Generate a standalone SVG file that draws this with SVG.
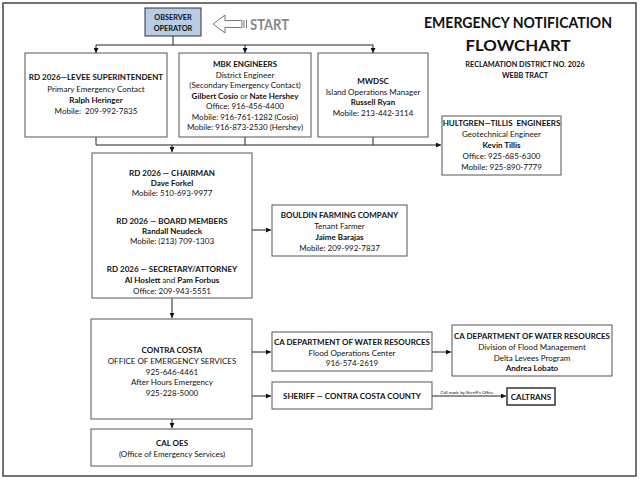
<svg xmlns="http://www.w3.org/2000/svg" width="640" height="480" viewBox="0 0 640 480">
<defs>
<style>
.t{font-family:Lato,"Liberation Sans",sans-serif;font-size:8px;text-anchor:middle;fill:#111;white-space:pre}
.b{font-weight:bold}
.big{font-size:16px}
.sm{font-size:7.3px}
.tiny{font-size:4.3px}
.box{fill:#fff;stroke:#555;stroke-width:1}
.ln{stroke:#222;stroke-width:1;fill:none}
.ar{marker-end:url(#ah)}
</style>
<marker id="ah" viewBox="0 0 6 6" refX="6" refY="3" markerUnits="userSpaceOnUse" markerWidth="5" markerHeight="5" orient="auto">
<path d="M0,0 L6,3 L0,6 z" fill="#111"/>
</marker>
</defs>
<rect x="0" y="0" width="640" height="480" fill="#fff"/>
<rect x="3" y="3" width="633" height="473" fill="none" stroke="#444" stroke-width="1.5"/>

<g id="title">
<text class="t b big" x="518" y="28" textLength="188" lengthAdjust="spacingAndGlyphs">EMERGENCY NOTIFICATION</text>
<text class="t b big" x="518" y="51" textLength="105" lengthAdjust="spacingAndGlyphs">FLOWCHART</text>
<text class="t b sm" x="525" y="67">RECLAMATION DISTRICT NO. 2026</text>
<text class="t b sm" x="525" y="77.5">WEBB TRACT</text>
</g>

<g id="start">
<polygon points="213,24 225,15 225,20.5 242,20.5 242,27.5 225,27.5 225,33" fill="#fff" stroke="#777" stroke-width="1"/>
<line x1="244" y1="20" x2="244" y2="28" stroke="#777" stroke-width="1"/>
<line x1="246.5" y1="20" x2="246.5" y2="28" stroke="#777" stroke-width="1"/>
<text class="t b" x="250" y="29.5" style="font-size:15px;text-anchor:start;fill:#888" textLength="39" lengthAdjust="spacingAndGlyphs">START</text>
</g>

<g id="observer">
<rect x="145" y="8" width="56" height="28" fill="#b8cce4" stroke="#333" stroke-width="1"/>
<text class="t b sm" x="173" y="20">OBSERVER</text>
<text class="t b sm" x="173" y="31">OPERATOR</text>
</g>

<g id="connectors">
<path class="ln" d="M173,36 V45 M96,45 H373"/>
<path class="ln ar" d="M96,45 V53"/>
<path class="ln ar" d="M245,45 V53"/>
<path class="ln ar" d="M373,45 V53"/>
<path class="ln" d="M96,137 V145 M245,137 V145 M373,137 V145"/>
<path class="ln ar" d="M96,145 H441"/>
<path class="ln ar" d="M172,145 V152"/>
<path class="ln ar" d="M252,230 H271"/>
<path class="ln ar" d="M172,298 V318"/>
<path class="ln ar" d="M252,352 H271"/>
<path class="ln ar" d="M252,396 H271"/>
<path class="ln ar" d="M172,419 V428"/>
<path class="ln ar" d="M432,352 H451"/>
<path class="ln ar" d="M432,396 H506"/>
<text class="t tiny" x="467" y="393.5">Call made by Sheriff's Office</text>
</g>

<g id="levee">
<rect class="box" x="25" y="53" width="142" height="84"/>
<text class="t b" x="96" y="80">RD 2026—LEVEE SUPERINTENDENT</text>
<text class="t" x="96" y="91.5">Primary Emergency Contact</text>
<text class="t b" x="96" y="102.5">Ralph Heringer</text>
<text class="t" x="96" y="113.5">Mobile:  209-992-7835</text>
</g>

<g id="mbk">
<rect class="box" x="179" y="53" width="132" height="84"/>
<text class="t b" x="245" y="67">MBK ENGINEERS</text>
<text class="t" x="245" y="77.5">District Engineer</text>
<text class="t" x="245" y="88">(Secondary Emergency Contact)</text>
<text class="t" x="245" y="98.5"><tspan class="b">Gilbert Cosio</tspan> or <tspan class="b">Nate Hershey</tspan></text>
<text class="t" x="245" y="109">Office: 916-456-4400</text>
<text class="t" x="245" y="119.5">Mobile: 916-761-1282 (Cosio)</text>
<text class="t" x="245" y="130">Mobile: 916-873-2530 (Hershey)</text>
</g>

<g id="mwdsc">
<rect class="box" x="318" y="53" width="110" height="84"/>
<text class="t b" x="373" y="84">MWDSC</text>
<text class="t" x="373" y="94.5">Island Operations Manager</text>
<text class="t b" x="373" y="105">Russell Ryan</text>
<text class="t" x="373" y="115.5">Mobile: 213-442-3114</text>
</g>

<g id="hultgren">
<rect class="box" x="442" y="116" width="119" height="59"/>
<text class="t b" x="501.5" y="126">HULTGREN—TILLIS  ENGINEERS</text>
<text class="t" x="501.5" y="137">Geotechnical Engineer</text>
<text class="t b" x="501.5" y="148">Kevin Tillis</text>
<text class="t" x="501.5" y="159">Office: 925-685-6300</text>
<text class="t" x="501.5" y="170">Mobile: 925-890-7779</text>
</g>

<g id="board">
<rect class="box" x="92" y="153" width="160" height="145"/>
<text class="t b" x="172" y="176">RD 2026 — CHAIRMAN</text>
<text class="t b" x="172" y="186">Dave Forkel</text>
<text class="t" x="172" y="196">Mobile: 510-693-9977</text>
<text class="t b" x="172" y="224">RD 2026 — BOARD MEMBERS</text>
<text class="t b" x="172" y="234">Randall Neudeck</text>
<text class="t" x="172" y="244">Mobile: (213) 709-1303</text>
<text class="t b" x="172" y="272">RD 2026 — SECRETARY/ATTORNEY</text>
<text class="t" x="172" y="283"><tspan class="b">Al Hoslett</tspan> and <tspan class="b">Pam Forbus</tspan></text>
<text class="t" x="172" y="294">Office: 209-943-5551</text>
</g>

<g id="bouldin">
<rect class="box" x="272" y="205" width="135" height="51"/>
<text class="t b" x="339.5" y="218">BOULDIN FARMING COMPANY</text>
<text class="t" x="339.5" y="229">Tenant Farmer</text>
<text class="t b" x="339.5" y="240">Jaime Barajas</text>
<text class="t" x="339.5" y="251">Mobile: 209-992-7837</text>
</g>

<g id="contracosta">
<rect class="box" x="91" y="319" width="161" height="100"/>
<text class="t b" x="172" y="353">CONTRA COSTA</text>
<text class="t" x="172" y="364">OFFICE OF EMERGENCY SERVICES</text>
<text class="t" x="172" y="374.5">925-646-4461</text>
<text class="t" x="172" y="385">After Hours Emergency</text>
<text class="t" x="172" y="396">925-228-5000</text>
</g>

<g id="caloes">
<rect class="box" x="91" y="429" width="161" height="37"/>
<text class="t b" x="172" y="446">CAL OES</text>
<text class="t" x="172" y="457">(Office of Emergency Services)</text>
</g>

<g id="dwr">
<rect class="box" x="272" y="332" width="160" height="39"/>
<text class="t b" x="352" y="345">CA DEPARTMENT OF WATER RESOURCES</text>
<text class="t" x="352" y="355.5">Flood Operations Center</text>
<text class="t" x="352" y="366">916-574-2619</text>
</g>

<g id="dwr2">
<rect class="box" x="452" y="325" width="160" height="51"/>
<text class="t b" x="532" y="339">CA DEPARTMENT OF WATER RESOURCES</text>
<text class="t" x="532" y="350">Division of Flood Management</text>
<text class="t" x="532" y="360.5">Delta Levees Program</text>
<text class="t b" x="532" y="371">Andrea Lobato</text>
</g>

<g id="sheriff">
<rect class="box" x="272" y="382" width="160" height="27"/>
<text class="t b" x="352" y="399">SHERIFF — CONTRA COSTA COUNTY</text>
</g>

<g id="caltrans">
<rect x="507" y="388" width="48" height="17" fill="#fff" stroke="#333" stroke-width="1.5"/>
<text class="t b" x="531" y="400">CALTRANS</text>
</g>
</svg>
